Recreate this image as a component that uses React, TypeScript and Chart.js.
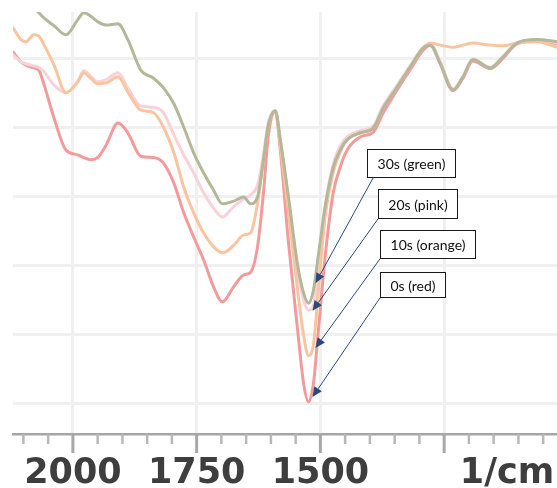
import { useEffect, useRef } from 'react';
import { Chart, registerables } from 'chart.js';

Chart.register(...registerables);

// Wavenumbers (1/cm) at which the four spectra were read
const wavenumbers = [
  2121, 2105, 2095, 2079, 2069, 2058, 2038, 2014, 1990, 1978,
  1964, 1950, 1933, 1909, 1889, 1863, 1837, 1817, 1796, 1776,
  1756, 1736, 1716, 1698, 1675, 1655, 1641, 1627, 1615, 1605,
  1591, 1581, 1565, 1546, 1534, 1524, 1514, 1504, 1490, 1474,
  1460, 1446, 1419, 1393, 1373, 1345, 1319, 1292, 1278, 1258,
  1232, 1212, 1192, 1157, 1131, 1103, 1063, 1022,
];

const green30s = [
  5.97, 5.88, 5.83, 5.74, 5.67, 5.59, 5.48, 5.35, 5.57, 5.67,
  5.62, 5.54, 5.49, 5.51, 5.28, 4.84, 4.72, 4.58, 4.35, 4.01,
  3.64, 3.35, 3.10, 2.90, 2.94, 3.00, 2.90, 3.00, 3.54, 4.04,
  4.25, 3.83, 3.03, 2.01, 1.61, 1.46, 1.65, 2.16, 2.88, 3.43,
  3.68, 3.83, 3.93, 4.00, 4.29, 4.59, 4.88, 5.16, 5.20, 4.94,
  4.55, 4.74, 4.99, 4.87, 5.03, 5.23, 5.28, 5.25,
];

const pink20s = [
  5.06, 4.96, 4.93, 4.90, 4.88, 4.81, 4.62, 4.51, 4.68, 4.83,
  4.75, 4.67, 4.70, 4.80, 4.58, 4.32, 4.30, 4.22, 3.90, 3.61,
  3.35, 3.06, 2.84, 2.71, 2.86, 2.97, 3.03, 3.17, 3.61, 4.09,
  4.25, 3.83, 2.96, 1.94, 1.51, 1.36, 1.43, 1.97, 2.88, 3.48,
  3.74, 3.87, 3.96, 4.03, 4.32, 4.62, 4.90, 5.17, 5.22, 4.96,
  4.57, 4.75, 5.00, 4.88, 5.04, 5.23, 5.28, 5.23,
];

const orange10s = [
  5.45, 5.28, 5.25, 5.35, 5.33, 5.20, 4.91, 4.51, 4.67, 4.80,
  4.72, 4.64, 4.65, 4.74, 4.52, 4.26, 4.22, 4.01, 3.64, 3.14,
  2.77, 2.48, 2.28, 2.19, 2.30, 2.45, 2.48, 2.91, 3.54, 4.04,
  4.24, 3.75, 2.81, 1.65, 1.00, 0.70, 0.86, 1.65, 2.74, 3.36,
  3.65, 3.83, 3.93, 4.00, 4.29, 4.59, 4.88, 5.16, 5.23, 5.20,
  5.17, 5.20, 5.23, 5.20, 5.19, 5.23, 5.25, 5.17,
];

const red0s = [
  5.10, 4.96, 4.91, 4.87, 4.84, 4.62, 4.14, 3.68, 3.61, 3.57,
  3.54, 3.57, 3.75, 4.07, 3.93, 3.59, 3.57, 3.49, 3.20, 2.77,
  2.42, 2.09, 1.70, 1.48, 1.70, 1.87, 1.91, 2.28, 3.06, 3.90,
  4.24, 3.68, 2.38, 1.07, 0.30, 0.03, 0.30, 1.07, 2.16, 3.06,
  3.43, 3.68, 3.87, 3.94, 4.22, 4.55, 4.84, 5.13, 5.20, 4.93,
  4.54, 4.72, 4.97, 4.86, 5.01, 5.22, 5.26, 5.22,
];

// Axis ticks
const majorTicks = [2000, 1750, 1500, 1250];
const majorLabels = ['2000', '1750', '1500', ''];
const minorTicks = [
  2100, 2050, 1950, 1900, 1850, 1800, 1700, 1650, 1600, 1550,
  1450, 1400, 1350, 1300, 1200, 1150, 1100, 1050,
];
const unitTickValue = 1123;
const unitLabel = '1/cm';
const yGridValues = [0, 1, 2, 3, 4, 5];

// Callout annotations (text, box anchor, arrow tip) in data units
const annLabels = ['30s (green)', '20s (pink)', '10s (orange)', '0s (red)'];
const annBoxLeft = [1405, 1383, 1379, 1379];
const annBoxTop = [3.70, 3.12, 2.52, 1.91];
const annBoxBottom = [3.29, 2.70, 2.12, 1.55];
const annTailX = [1393, 1383, 1379, 1379];
const annTipX = [1510, 1516, 1510, 1516];
const annTipY = [1.75, 1.35, 0.81, 0.10];

const toPoints = (vals: number[]) => wavenumbers.map((w, i) => ({ x: w, y: vals[i] }));

const tickMarksPlugin = {
  id: 'tickMarks',
  afterDraw(chart: any) {
    const { ctx } = chart;
    const xs = chart.scales.x;
    const y0 = xs.top;
    ctx.save();
    minorTicks.forEach((v) => {
      const px = xs.getPixelForValue(v);
      ctx.strokeStyle = '#b8b8b8';
      ctx.lineWidth = 2.5;
      ctx.beginPath();
      ctx.moveTo(px, y0);
      ctx.lineTo(px, y0 + 10);
      ctx.stroke();
    });
    majorTicks.forEach((v) => {
      const px = xs.getPixelForValue(v);
      ctx.strokeStyle = '#a8a8a8';
      ctx.lineWidth = 3;
      ctx.beginPath();
      ctx.moveTo(px, y0);
      ctx.lineTo(px, y0 + 19);
      ctx.stroke();
    });
    ctx.restore();
  },
};

const calloutPlugin = {
  id: 'callouts',
  afterDatasetsDraw(chart: any) {
    const { ctx } = chart;
    const xs = chart.scales.x;
    const ys = chart.scales.y;
    ctx.save();
    ctx.font = '14px Lato';
    annLabels.forEach((label, i) => {
      const left = Math.round(xs.getPixelForValue(annBoxLeft[i])) + 0.5;
      const top = Math.round(ys.getPixelForValue(annBoxTop[i])) + 0.5;
      const bottom = Math.round(ys.getPixelForValue(annBoxBottom[i])) + 0.5;
      const tw = ctx.measureText(label).width;
      const w = Math.round(tw + 20);
      // arrow
      const tx = xs.getPixelForValue(annTailX[i]);
      const ty = bottom;
      const hx = xs.getPixelForValue(annTipX[i]);
      const hy = ys.getPixelForValue(annTipY[i]);
      const ang = Math.atan2(hy - ty, hx - tx);
      const hl = 10;
      const hw = 4.5;
      const bx = hx - hl * Math.cos(ang);
      const by = hy - hl * Math.sin(ang);
      ctx.strokeStyle = '#2c4a78';
      ctx.fillStyle = '#2c4a78';
      ctx.lineWidth = 1;
      ctx.beginPath();
      ctx.moveTo(tx, ty);
      ctx.lineTo(bx, by);
      ctx.stroke();
      ctx.beginPath();
      ctx.moveTo(hx, hy);
      ctx.lineTo(bx + hw * Math.sin(ang), by - hw * Math.cos(ang));
      ctx.lineTo(bx - hw * Math.sin(ang), by + hw * Math.cos(ang));
      ctx.closePath();
      ctx.fill();
      // box
      ctx.fillStyle = '#ffffff';
      ctx.fillRect(left, top, w, bottom - top);
      ctx.strokeStyle = '#1a1a1a';
      ctx.lineWidth = 1;
      ctx.strokeRect(left, top, w, bottom - top);
      ctx.fillStyle = '#111111';
      ctx.textAlign = 'center';
      ctx.textBaseline = 'middle';
      ctx.fillText(label, left + w / 2, (top + bottom) / 2 + 1);
    });
    ctx.restore();
  },
};

export default function App() {
  const canvasRef = useRef<HTMLCanvasElement | null>(null);

  useEffect(() => {
    document.body.style.margin = '0';
    const canvas = canvasRef.current;
    if (!canvas) return;
    const allTicks = [...majorTicks, ...minorTicks, unitTickValue].sort((a, b) => a - b);
    const gridColor = '#f0f0f0';
    const chart = new Chart(canvas, {
      type: 'line',
      data: {
        datasets: [
          { label: '0s (red)', data: toPoints(red0s), borderColor: 'rgb(243,155,155)', order: 4 },
          { label: '20s (pink)', data: toPoints(pink20s), borderColor: 'rgb(248,210,216)', order: 3 },
          { label: '10s (orange)', data: toPoints(orange10s), borderColor: 'rgb(249,196,160)', order: 2 },
          { label: '30s (green)', data: toPoints(green30s), borderColor: 'rgb(180,184,154)', order: 1 },
        ].map((d) => ({
          ...d,
          borderWidth: 3,
          pointRadius: 0,
          cubicInterpolationMode: 'monotone' as const,
          fill: false,
          borderCapStyle: 'round' as const,
          borderJoinStyle: 'round' as const,
        })),
      },
      options: {
        responsive: false,
        animation: false,
        events: [],
        layout: { padding: { left: 0, right: 0, top: 12, bottom: 0 } },
        plugins: { legend: { display: false }, tooltip: { enabled: false } },
        scales: {
          x: {
            type: 'linear',
            reverse: true,
            min: 1022,
            max: 2121,
            afterBuildTicks: (axis: any) => {
              axis.ticks = allTicks.map((v) => ({ value: v }));
            },
            afterFit: (axis: any) => {
              axis.height = 54;
            },
            grid: {
              drawTicks: false,
              lineWidth: 3,
              color: (c: any) => (c.tick && majorTicks.includes(c.tick.value) ? gridColor : 'rgba(0,0,0,0)'),
            },
            border: { display: true, color: '#a6a6a6', width: 2.5 },
            ticks: {
              autoSkip: false,
              maxRotation: 0,
              padding: 19,
              color: '#3e3e3e',
              font: { family: 'DejaVu Sans', size: 35, weight: 'bold' },
              callback: (value: any) => {
                const v = Number(value);
                if (v === unitTickValue) return unitLabel;
                const idx = majorTicks.indexOf(v);
                return idx >= 0 ? majorLabels[idx] : '';
              },
            },
          },
          y: {
            type: 'linear',
            min: -0.435,
            max: 5.68,
            afterBuildTicks: (axis: any) => {
              axis.ticks = yGridValues.map((v) => ({ value: v }));
            },
            afterFit: (axis: any) => {
              axis.width = 13;
            },
            grid: { drawTicks: false, lineWidth: 3, color: gridColor },
            border: { display: false },
            ticks: { display: false },
          },
        },
      },
      plugins: [tickMarksPlugin, calloutPlugin],
    } as any);
    return () => chart.destroy();
  }, []);

  return <canvas ref={canvasRef} width={557} height={488} style={{ display: 'block' }} />;
}
